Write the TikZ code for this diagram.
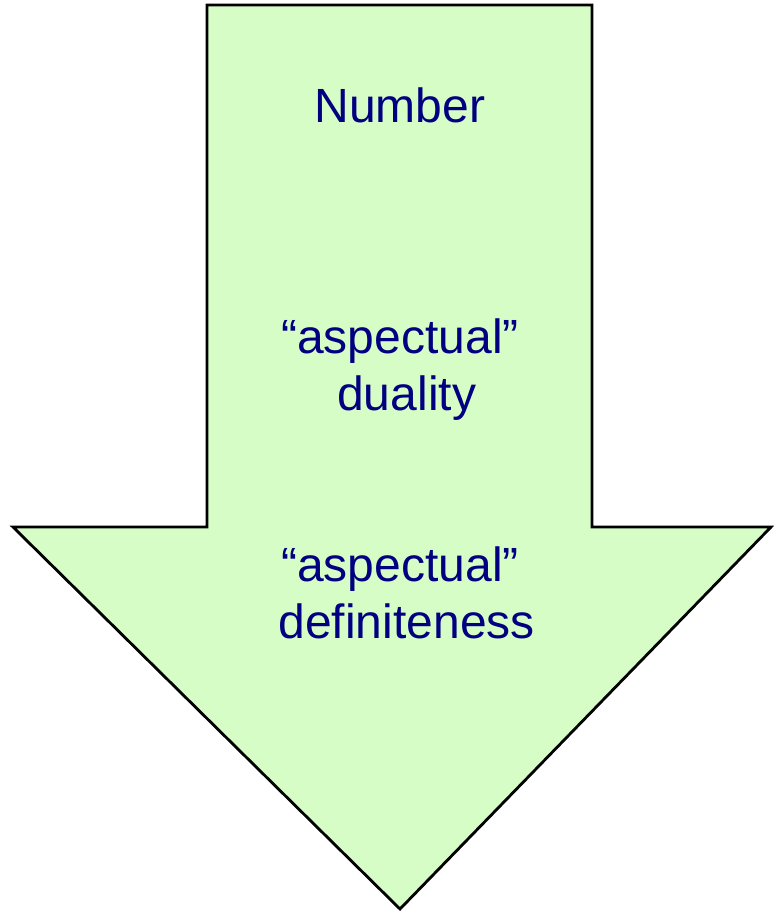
\documentclass[tikz,border=0pt]{standalone}
\usepackage{fontspec}
\setmainfont{Liberation Sans}
\usepackage{tikz}
\definecolor{arrowgreen}{RGB}{214,253,198}
\definecolor{textnavy}{RGB}{0,0,128}

\begin{document}
\begin{tikzpicture}[x=1pt,y=-1pt,
    arrowtext/.style={text=textnavy, font=\fontsize{48}{57}\selectfont, align=center, inner sep=0pt}]
    \useasboundingbox (0,0) rectangle (774,914);

    % the big arrow pointing down
    \draw[fill=arrowgreen, line width=2.8pt, line join=miter]
        (207,5) -- (592,5) -- (592,527) -- (771,527) -- (400,909)
        -- (13,527) -- (207,527) -- cycle;

    \node[arrowtext, anchor=base] (number) at (400,122) {Number};
    \node[arrowtext, anchor=base] (duality) at (400,410) {``aspectual''\\\ duality};
    \node[arrowtext, anchor=base] (definite) at (400,638) {``aspectual''\\\ definiteness};
\end{tikzpicture}
\end{document}
